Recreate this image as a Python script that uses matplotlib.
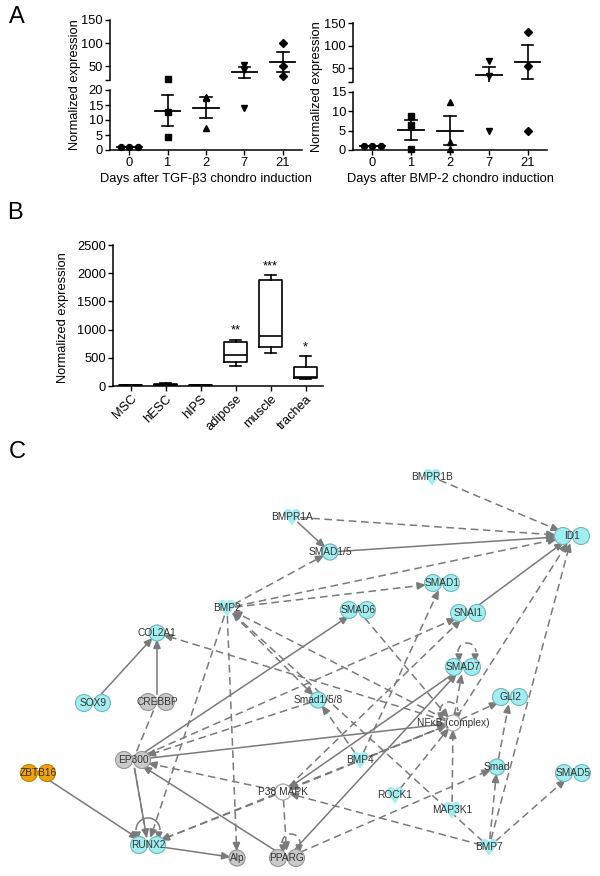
import numpy as np
import matplotlib
matplotlib.use("Agg")
import matplotlib.pyplot as plt
from matplotlib.patches import Circle, Polygon, Arc

plt.rcParams['font.family'] = ['Liberation Sans', 'DejaVu Sans']

W, H = 600, 876

# ---- Panel A: normalized expression after chondro induction
days = ['0', '1', '2', '7', '21']
tgf_vals = [[1.0, 1.0, 1.0], [22.5, 12.8, 4.2], [17.6, 17.4, 7.3], [53.0, 42.0, 14.0], [100.0, 50.0, 28.0]]
bmp_vals = [[1.0, 1.0, 1.0], [8.8, 6.5, 0.2], [12.4, 2.1, 0.3], [67.0, 34.0, 5.0], [131.0, 56.0, 5.0]]

# ---- Panel B: box plot per tissue
tissues = ['MSC', 'hESC', 'hIPS', 'adipose', 'muscle', 'trachea']
box_low = [4, 10, 4, 350, 585, 130]
box_q1 = [7, 18, 7, 430, 700, 148]
box_med = [10, 26, 10, 550, 895, 165]
box_q3 = [16, 36, 16, 780, 1875, 335]
box_high = [22, 46, 22, 820, 1970, 525]
stars = ['', '', '', '**', '***', '*']

# ---- Panel C: network
node_names = ['BMPR1B', 'ID1', 'BMPR1A', 'SMAD1/5', 'SMAD1', 'SMAD6', 'BMP2', 'SNAI1',
              'COL2A1', 'SOX9', 'CREBBP', 'EP300', 'ZBTB16', 'RUNX2', 'Alp', 'P38 MAPK',
              'PPARG', 'SMAD7', 'GLI2', 'Smad1/5/8', 'NFκB (complex)', 'BMP4', 'ROCK1',
              'MAP3K1', 'Smad', 'SMAD5', 'BMP7']
edges = [
    ('BMPR1B', 'ID1', 'dash'), ('BMPR1A', 'ID1', 'dash'), ('BMPR1A', 'SMAD1/5', 'solid'),
    ('SMAD1/5', 'ID1', 'solid'), ('BMP2', 'SMAD1/5', 'dash'), ('BMP2', 'ID1', 'dash'),
    ('BMP2', 'SMAD1', 'dash'), ('BMP2', 'Smad1/5/8', 'dash'), ('BMP2', 'Alp', 'dash'),
    ('BMP2', 'RUNX2', 'dash'), ('NFκB (complex)', 'BMP2', 'dash'), ('BMP7', 'BMP2', 'dash'),
    ('NFκB (complex)', 'COL2A1', 'dash'), ('SOX9', 'COL2A1', 'solid'), ('CREBBP', 'COL2A1', 'solid'),
    ('CREBBP', 'EP300', 'dashline'), ('Smad1/5/8', 'EP300', 'dash'), ('P38 MAPK', 'EP300', 'dash'),
    ('P38 MAPK', 'PPARG', 'dash'), ('NFκB (complex)', 'RUNX2', 'dash'), ('P38 MAPK', 'RUNX2', 'dash'),
    ('EP300', 'RUNX2', 'dash'), ('EP300', 'RUNX2', 'line'),
    ('NFκB (complex)', 'SMAD7', 'dash'), ('NFκB (complex)', 'GLI2', 'dash'), ('Smad', 'GLI2', 'dash'),
    ('BMP7', 'Smad', 'dash'), ('BMP7', 'SMAD5', 'dash'), ('BMP7', 'ID1', 'dash'),
    ('NFκB (complex)', 'ID1', 'dash'), ('PPARG', 'Smad', 'dash'), ('BMP7', 'P38 MAPK', 'dash'),
    ('MAP3K1', 'NFκB (complex)', 'dash'), ('ROCK1', 'NFκB (complex)', 'dash'),
    ('BMP4', 'NFκB (complex)', 'dash'), ('BMP4', 'SMAD1', 'dash'), ('BMP4', 'Smad1/5/8', 'dash'),
    ('SMAD6', 'NFκB (complex)', 'dash'), ('P38 MAPK', 'SNAI1', 'dash'), ('EP300', 'SNAI1', 'dash'),
    ('NFκB (complex)', 'P38 MAPK', 'dash'), ('SNAI1', 'ID1', 'solid'), ('ZBTB16', 'RUNX2', 'solid'),
    ('RUNX2', 'Alp', 'solid'), ('EP300', 'SMAD6', 'solid'), ('EP300', 'NFκB (complex)', 'solid'),
    ('PPARG', 'EP300', 'solid'), ('SMAD7', 'P38 MAPK', 'solid'), ('PPARG', 'SMAD7', 'solid'),
]
self_loops = [('SMAD7', 'dash'), ('RUNX2', 'solid'), ('PPARG', 'dash'), ('NFκB (complex)', 'dash')]

# layout of the network in figure pixels
pos = {
    'BMPR1B': (432, 477), 'ID1': (572, 536), 'BMPR1A': (292, 517), 'SMAD1/5': (330, 552),
    'SMAD1': (442, 583), 'SMAD6': (358, 610), 'BMP2': (227, 608), 'SNAI1': (468, 613),
    'COL2A1': (157, 633), 'SOX9': (93, 703), 'CREBBP': (157, 702), 'EP300': (133, 760),
    'ZBTB16': (38, 773), 'RUNX2': (148, 845), 'Alp': (237, 858), 'P38 MAPK': (283, 792),
    'PPARG': (287, 858), 'SMAD7': (463, 667), 'GLI2': (510, 697), 'Smad1/5/8': (318, 700),
    'NFκB (complex)': (453, 723), 'BMP4': (360, 760), 'ROCK1': (395, 795), 'MAP3K1': (452, 810),
    'Smad': (497, 767), 'SMAD5': (573, 773), 'BMP7': (489, 847),
}
dumbbells = {'ID1', 'SMAD1', 'SMAD6', 'SNAI1', 'SMAD7', 'GLI2', 'SOX9', 'CREBBP', 'EP300',
             'ZBTB16', 'RUNX2', 'PPARG', 'SMAD5'}
circles = {'SMAD1/5', 'Smad1/5/8', 'Smad', 'COL2A1', 'Alp', 'P38 MAPK', 'NFκB (complex)'}
grays = {'CREBBP', 'EP300', 'Alp', 'PPARG'}
whites = {'P38 MAPK', 'NFκB (complex)'}
oranges = {'ZBTB16'}

CYAN, CYAN_E = '#a0eef0', '#72b9bb'
GRAY, GRAY_E = '#c9c9c9', '#989898'
ORANGE, ORANGE_E = '#f0a20c', '#c08200'
EDGE = '#7a7a7a'
DASH = (0, (5, 3))

fig = plt.figure(figsize=(W / 100, H / 100), dpi=100)


def px_axes(x0, y0, x1, y1):
    return fig.add_axes([x0 / W, 1 - y1 / H, (x1 - x0) / W, (y1 - y0) / H])


# ---------------- network (drawn on full-figure pixel axes)
net = fig.add_axes([0, 0, 1, 1])
net.set_xlim(0, W)
net.set_ylim(H, 0)
net.axis('off')


def radius(name, ux, uy):
    if name in dumbbells:
        return 1.0 / np.hypot(ux / 18.0, uy / 8.5)
    return 8.0


def draw_edge(src, dst, kind):
    x0, y0 = pos[src]
    x1, y1 = pos[dst]
    d = np.hypot(x1 - x0, y1 - y0)
    ux, uy = (x1 - x0) / d, (y1 - y0) / d
    sx, sy = x0 + ux * radius(src, ux, uy), y0 + uy * radius(src, ux, uy)
    ex, ey = x1 - ux * radius(dst, ux, uy), y1 - uy * radius(dst, ux, uy)
    head = kind in ('dash', 'solid')
    ls = '-' if kind in ('solid', 'line') else DASH
    hl = 7.5 if head else 0.0
    net.plot([sx, ex - ux * hl], [sy, ey - uy * hl], color=EDGE, lw=1.1, ls=ls, zorder=1)
    if head:
        px, py = -uy, ux
        tri = [(ex, ey), (ex - ux * hl + px * 3.2, ey - uy * hl + py * 3.2),
               (ex - ux * hl - px * 3.2, ey - uy * hl - py * 3.2)]
        net.add_patch(Polygon(tri, closed=True, color=EDGE, zorder=2))


def draw_loop(name, kind):
    x, y = pos[name]
    ls = '-' if kind == 'solid' else DASH
    if name == 'RUNX2':
        cx, cy, r = x, y - 15, 12
    elif name == 'NFκB (complex)':
        cx, cy, r = x - 4, y - 12, 9
    else:
        cx, cy, r = x + 4, y - 15, 9
    net.add_patch(Arc((cx, cy), 2 * r, 2 * r, theta1=0, theta2=180, angle=180,
                      color=EDGE, lw=1.1, ls=ls, zorder=1))
    for sgn in (-1, 1):
        ex, ey = cx + sgn * r * 0.9, cy + 6
        net.add_patch(Polygon([(ex, ey + 3), (ex - 3, ey - 4), (ex + 3, ey - 4)],
                              closed=True, color=EDGE, zorder=2))


def draw_node(name):
    x, y = pos[name]
    if name in grays:
        fc, ec = GRAY, GRAY_E
    elif name in oranges:
        fc, ec = ORANGE, ORANGE_E
    elif name in whites:
        fc, ec = 'white', '#a8a8a8'
    else:
        fc, ec = CYAN, CYAN_E
    if name in dumbbells:
        for dx in (-9, 9):
            net.add_patch(Circle((x + dx, y), 8.5, fc=fc, ec=ec, lw=0.8, zorder=3))
    elif name in circles:
        net.add_patch(Circle((x, y), 8.0, fc=fc, ec=ec, lw=0.9, zorder=3))
    else:
        for dx in (-4, 4):
            net.add_patch(Circle((x + dx, y - 3.5), 4.5, fc=fc, ec='none', zorder=3))
        net.add_patch(Polygon([(x - 8, y - 2), (x + 8, y - 2), (x, y + 8.5)],
                              closed=True, fc=fc, ec='none', zorder=3))
    net.text(x, y, name, fontsize=7.3, color='#333333', ha='center', va='center', zorder=4)


for s, t, k in edges:
    draw_edge(s, t, k)
for n, k in self_loops:
    draw_loop(n, k)
for n in node_names:
    draw_node(n)


# ---------------- Panel A: broken-axis dot plots
markers = ['o', 's', '^', 'v', 'D']
spread = [-0.22, 0.0, 0.22]


def dot_plot(x0, x1, y_top, y_hi, y_lo, y_bot, vals, low_max, low_ticks, xlabel, ylab_x):
    ax_hi = px_axes(x0, y_top, x1, y_hi)
    ax_lo = px_axes(x0, y_lo, x1, y_bot)
    for ax, lo, hi in ((ax_hi, 19, 150), (ax_lo, 0, low_max)):
        for i, v in enumerate(vals):
            v = np.array(v)
            xs = np.array([i + s for s in spread] if i == 0 else [i] * len(v))
            keep = (v >= lo) & (v <= hi)
            ax.plot(xs[keep], v[keep], ls='none', marker=markers[i],
                    ms=4.3 if i != 4 else 3.8, color='black', clip_on=False)
            m = v.mean()
            sem = v.std(ddof=1) / np.sqrt(len(v))
            ax.plot([i - 0.33, i + 0.33], [m, m], color='black', lw=1.3)
            ax.plot([i, i], [m - sem, m + sem], color='black', lw=1.2)
            for yy in (m - sem, m + sem):
                ax.plot([i - 0.15, i + 0.15], [yy, yy], color='black', lw=1.2)
        ax.set_xlim(-0.5, 4.5)
        ax.spines['top'].set_visible(False)
        ax.spines['right'].set_visible(False)
        ax.tick_params(labelsize=9.3, length=3.5, width=1, direction='out', pad=1.5)
        ax.spines['left'].set_linewidth(1.1)
        ax.spines['bottom'].set_linewidth(1.1)
        ax.set_facecolor('none')
    ax_hi.set_ylim(20, 150)
    ax_hi.set_yticks([20, 50, 100, 150])
    ax_hi.set_yticklabels(['', '50', '100', '150'])
    ax_hi.spines['bottom'].set_visible(False)
    ax_hi.set_xticks([])
    ax_lo.set_ylim(0, low_max)
    ax_lo.set_yticks(low_ticks)
    ax_lo.set_xticks(range(len(days)))
    ax_lo.set_xticklabels(days)
    ax_lo.set_xlabel(xlabel, fontsize=9.3, labelpad=3)
    fig.text(ylab_x / W, 1 - ((y_top + y_bot) / 2) / H, 'Normalized expression',
             rotation=90, fontsize=9.3, ha='center', va='center')


dot_plot(110, 302, 20, 80, 90, 150, tgf_vals, 20, [0, 5, 10, 15, 20],
         'Days after TGF-β3 chondro induction', 75)
dot_plot(353, 547, 23, 82, 92, 150, bmp_vals, 15, [0, 5, 10, 15],
         'Days after BMP-2 chondro induction', 317)

# ---------------- Panel B: box plots
axb = px_axes(113, 245, 323, 386)
stats = []
for i in range(len(tissues)):
    stats.append(dict(whislo=box_low[i], q1=box_q1[i], med=box_med[i], q3=box_q3[i],
                      whishi=box_high[i], label=tissues[i]))
axb.bxp(stats, positions=range(len(tissues)), widths=0.68, showfliers=False,
        boxprops=dict(color='black', lw=1.2), medianprops=dict(color='black', lw=1.2),
        whiskerprops=dict(color='black', lw=1.2), capprops=dict(color='black', lw=1.2),
        capwidths=0.34)
for i, s in enumerate(stars):
    if s:
        axb.text(i, box_high[i] + 50, s, ha='center', va='bottom', fontsize=9.3)
axb.set_xlim(-0.5, 5.5)
axb.set_ylim(0, 2500)
axb.set_yticks([0, 500, 1000, 1500, 2000, 2500])
axb.set_xticks(range(len(tissues)))
axb.set_xticklabels(tissues, rotation=45, ha='right', rotation_mode='anchor')
axb.spines['top'].set_visible(False)
axb.spines['right'].set_visible(False)
axb.spines['left'].set_linewidth(1.1)
axb.spines['bottom'].set_linewidth(1.1)
axb.tick_params(labelsize=9.3, length=3.5, width=1, pad=1.5)
axb.set_facecolor('none')
fig.text(63 / W, 1 - 318 / H, 'Normalized expression', rotation=90, fontsize=9.3,
         ha='center', va='center')

# panel letters
for letter, (x, y) in zip('ABC', [(17, 17), (15, 213), (17, 452)]):
    fig.text(x / W, 1 - y / H, letter, fontsize=17, ha='center', va='center')

fig.savefig('out.png', dpi=100)
